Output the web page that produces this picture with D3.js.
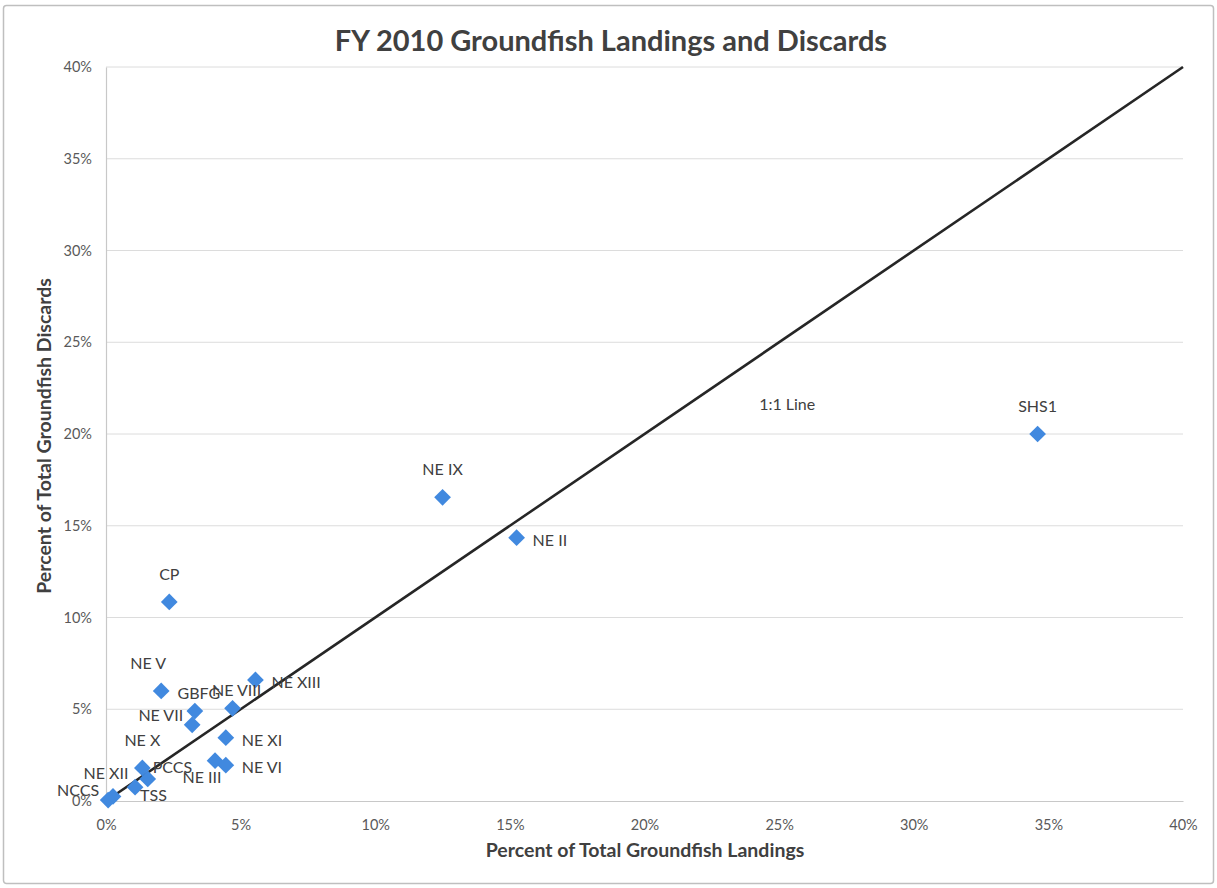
<!DOCTYPE html>
<html>
<head>
<meta charset="utf-8">
<script src="https://cdn.jsdelivr.net/npm/d3@7"></script>
<style>
  html, body { margin: 0; padding: 0; background: #fff; }
  svg { display: block; font-family: Lato, "Open Sans", sans-serif; }
</style>
</head>
<body>
<svg id="chart" width="1217" height="888"></svg>
<script>
// ---- data ----
const sectors = ["SHS1", "NE IX", "NE II", "CP", "NE V", "GBFG", "NE VII", "NE VIII", "NE XIII",
                 "NE XI", "NE III", "NE VI", "NE X", "PCCS", "TSS", "NE XII", "NCCS"];
const landings = [34.6, 12.5, 15.25, 2.35, 2.05, 3.3, 3.2, 4.7, 5.55,
                  4.45, 4.05, 4.45, 1.35, 1.55, 1.08, 0.26, 0.08];
const discards = [20.0, 16.55, 14.35, 10.85, 6.0, 4.9, 4.15, 5.05, 6.6,
                  3.45, 2.2, 1.95, 1.8, 1.2, 0.75, 0.25, 0.05];
const labelSide = ["top", "top", "right", "top", "topleft", "topnear", "left", "topnear", "right",
                   "right", "bottom", "right", "top", "topright", "bottomright", "nearleft", "left"];
const tickValues = [0, 5, 10, 15, 20, 25, 30, 35, 40];
const oneToOne = [[0, 0], [40, 40]];
const oneToOneLabel = {text: "1:1 Line", x: 25.3, y: 21.6};
const chartTitle = "FY 2010 Groundfish Landings and Discards";
const xTitle = "Percent of Total Groundfish Landings";
const yTitle = "Percent of Total Groundfish Discards";

// ---- layout ----
const svg = d3.select("#chart");
const plot = {left: 106, right: 1183, top: 67, bottom: 801};

const x = d3.scaleLinear().domain([0, 40]).range([plot.left, plot.right]);
const y = d3.scaleLinear().domain([0, 40]).range([plot.bottom, plot.top]);

// outer border
svg.append("rect").attr("x", 3.5).attr("y", 5.5).attr("width", 1210).attr("height", 878)
  .attr("fill", "#fff").attr("stroke", "#bfbfbf").attr("stroke-width", 1.5).attr("rx", 3);

// title
svg.append("text").attr("x", 611).attr("y", 51).attr("text-anchor", "middle")
  .attr("font-size", 29).attr("font-weight", "bold").attr("fill", "#404040").text(chartTitle);

// gridlines
svg.append("g").selectAll("line").data(tickValues.filter(d => d > 0)).join("line")
  .attr("x1", plot.left).attr("x2", plot.right)
  .attr("y1", d => y(d)).attr("y2", d => y(d))
  .attr("stroke", "#dcdcdc").attr("stroke-width", 1);

// axes
const xAxis = d3.axisBottom(x).tickValues(tickValues).tickFormat(d => d + "%").tickSize(0).tickPadding(19);
const yAxis = d3.axisLeft(y).tickValues(tickValues).tickFormat(d => d + "%").tickSize(0).tickPadding(14);

const gx = svg.append("g").attr("transform", `translate(0,${plot.bottom})`).call(xAxis);
const gy = svg.append("g").attr("transform", `translate(${plot.left},0)`).call(yAxis);
[gx, gy].forEach(g => {
  g.select(".domain").attr("stroke", "#c8c8c8").attr("stroke-width", 1.2);
  g.selectAll("text").attr("font-family", "Lato, sans-serif").attr("font-size", 14.5).attr("fill", "#595959");
});

// axis titles
svg.append("text").attr("x", 645).attr("y", 857).attr("text-anchor", "middle")
  .attr("font-size", 19.5).attr("font-weight", "bold").attr("fill", "#404040").text(xTitle);
svg.append("text").attr("transform", "translate(51,436) rotate(-90)").attr("text-anchor", "middle")
  .attr("font-size", 19.5).attr("font-weight", "bold").attr("fill", "#404040").text(yTitle);

// 1:1 line
svg.append("path").datum(oneToOne)
  .attr("d", d3.line().x(d => x(d[0])).y(d => y(d[1])))
  .attr("stroke", "#262626").attr("stroke-width", 2.6).attr("fill", "none");

svg.append("text").attr("x", x(oneToOneLabel.x)).attr("y", y(oneToOneLabel.y) + 5)
  .attr("text-anchor", "middle").attr("font-size", 16).attr("fill", "#404040").text(oneToOneLabel.text);

// points
const pts = sectors.map((s, i) => ({name: s, lx: landings[i], dy: discards[i], side: labelSide[i]}));
const sym = d3.symbol().type(d3.symbolSquare).size(140);
svg.append("g").selectAll("path").data(pts).join("path")
  .attr("d", sym)
  .attr("transform", d => `translate(${x(d.lx)},${y(d.dy)}) rotate(45)`)
  .attr("fill", "#4189df");

// labels
const place = {
  top:         {dx: 0,   dy: -22, anchor: "middle"},
  topnear:     {dx: 4,   dy: -12, anchor: "middle"},
  topleft:     {dx: -13, dy: -22, anchor: "middle"},
  nearleft:    {dx: -7,  dy: -17, anchor: "middle"},
  topright:    {dx: 5,   dy: -6,  anchor: "start"},
  right:       {dx: 16,  dy: 8,   anchor: "start"},
  bottomright: {dx: 5,   dy: 14,  anchor: "start"},
  left:        {dx: -9,  dy: -4,  anchor: "end"},
  bottom:      {dx: -13, dy: 22,  anchor: "middle"}
};
svg.append("g").selectAll("text").data(pts).join("text")
  .attr("x", d => x(d.lx) + place[d.side].dx)
  .attr("y", d => y(d.dy) + place[d.side].dy)
  .attr("text-anchor", d => place[d.side].anchor)
  .attr("font-size", 16).attr("fill", "#404040")
  .text(d => d.name);
</script>
</body>
</html>
